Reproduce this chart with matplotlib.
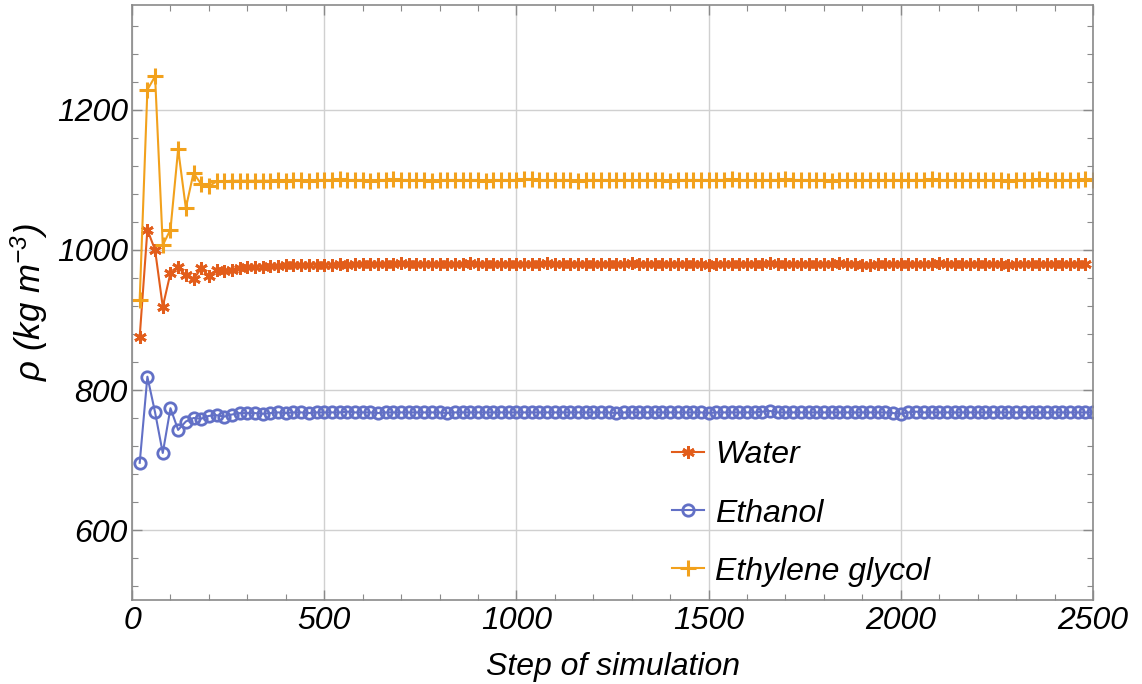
import numpy as np
import matplotlib
matplotlib.use("Agg")
from matplotlib import pyplot as plt
from matplotlib.ticker import MultipleLocator

plt.rcParams['font.family'] = ['Liberation Sans', 'DejaVu Sans']
plt.rcParams['font.style'] = 'italic'
plt.rcParams['mathtext.fontset'] = 'custom'
plt.rcParams['mathtext.rm'] = 'Liberation Sans:italic'
plt.rcParams['mathtext.it'] = 'Liberation Sans:italic'

# simulation steps
steps = list(range(20, 2501, 20))

water = [876, 1029, 1000, 919, 967, 975, 964, 958, 974, 963, 972, 970, 972, 974, 975, 976, 976, 977, 977, 978,
         978, 978, 979, 979, 979, 979, 980, 979, 980, 980, 980, 980, 980, 980, 981, 980, 980, 980, 980, 980,
         980, 980, 980, 981, 980, 980, 980, 980, 980, 980,
         980, 980, 980, 981, 980, 980, 980, 980, 980, 980, 980, 980, 980, 980, 981, 980, 980, 980, 980, 980,
         980, 980, 980, 980, 979,
         980, 980, 980, 980, 980, 980, 980, 981, 980, 980, 980, 980, 980, 980, 980, 980, 981, 980, 980, 978,
         979, 980, 980, 980, 980,
         980, 980, 980, 980, 981, 980, 980, 980, 980, 980, 980, 980, 980, 979, 980, 980, 980, 980, 980, 980,
         980, 980, 980, 980]

ethanol = [696, 819, 768, 710, 774, 743, 755, 760, 759, 763, 764, 762, 765, 767, 767, 767, 766, 767, 768, 767,
           768, 768, 767, 768, 768, 768, 768, 769, 768, 768, 768, 767, 768, 768, 768, 768, 768, 768, 768, 768,
           767, 768, 768, 768, 768, 768, 768, 768, 768, 768,
           768, 768, 768, 768, 768, 768, 768, 768, 768, 768, 768, 768, 767, 768, 768, 768, 768, 768, 768, 768,
           768, 768, 768, 768, 767,
           768, 768, 768, 768, 768, 768, 769, 770, 768, 768, 768, 768, 768, 768, 768, 768, 768, 768, 768, 768,
           768, 768, 768, 767, 766,
           768, 769, 768, 768, 768, 768, 768, 768, 768, 768, 768, 768, 768, 768, 768, 768, 768, 768, 768, 768,
           768, 768, 768, 768, 768]

glycol = [929, 1229, 1248, 1007, 1029, 1144, 1060, 1110, 1094, 1091, 1098,
          1098, 1099, 1099, 1099, 1099, 1099, 1099, 1100, 1099,
          1100, 1100, 1099, 1100, 1100, 1100, 1101, 1100, 1100, 1100, 1099, 1100, 1100, 1101, 1100, 1100, 1100,
          1100, 1099, 1100, 1100, 1100, 1100, 1100, 1100, 1099, 1100, 1100, 1100, 1100,
          1101, 1101, 1100, 1100, 1100, 1100, 1100, 1099, 1100, 1100, 1100, 1100, 1100, 1100, 1100, 1100, 1100,
          1100, 1100, 1099, 1100, 1100, 1100, 1100, 1100,
          1100, 1100, 1101, 1100, 1100, 1100, 1100, 1100, 1100, 1101, 1100, 1100, 1100, 1100, 1100, 1099, 1100,
          1100, 1100, 1100, 1100, 1100, 1100, 1100, 1100,
          1100, 1100, 1100, 1101, 1100, 1100, 1100, 1100, 1100, 1100, 1100, 1100, 1100, 1099, 1100, 1100, 1100,
          1101, 1100, 1100, 1100, 1100, 1100, 1101, 1100]

c_water = '#E25D1B'
c_ethanol = '#6270C6'
c_glycol = '#F2A11C'

fig = plt.figure(figsize=(11.42, 6.84), dpi=100)
ax = fig.add_axes([0.1156, 0.1228, 0.8415, 0.8699])

ax.plot(steps[:len(water)], water, color=c_water, lw=1.5, marker=(6, 2, 0), ms=9, mew=2.0,
        label='Water')
ax.plot(steps, ethanol, color=c_ethanol, lw=1.5, marker='o', ms=8.2, mew=2.0, mfc='none',
        label='Ethanol')
ax.plot(steps, glycol, color=c_glycol, lw=1.5, marker='+', ms=11, mew=2.2,
        label='Ethylene glycol')

ax.set_xlim(0, 2500)
ax.set_ylim(500, 1350)
ax.xaxis.set_major_locator(MultipleLocator(500))
ax.xaxis.set_minor_locator(MultipleLocator(100))
ax.yaxis.set_major_locator(MultipleLocator(200))
ax.yaxis.set_minor_locator(MultipleLocator(40))
ax.grid(True, which='major', color='#d0d0d0', lw=1.0)
ax.set_axisbelow(True)

for s in ax.spines.values():
    s.set_color('#8a8a8a')
    s.set_linewidth(1.2)
ax.tick_params(which='both', direction='in', top=True, right=True, color='#8a8a8a',
               labelsize=23)
ax.tick_params(axis='x', pad=4.5)
ax.tick_params(axis='y', pad=3)
ax.tick_params(which='major', length=7, width=1.0)
ax.tick_params(which='minor', length=4, width=0.8)

ax.set_xlabel('Step of simulation', fontsize=23, labelpad=11)
ax.set_ylabel(r'ρ (kg m$^{-3}$)', fontsize=25, labelpad=5)

ax.legend(loc='upper left', bbox_to_anchor=(0.545, 0.295), frameon=False, fontsize=23,
          handlelength=1.0, handletextpad=0.35, labelspacing=0.88, borderpad=0)

fig.savefig('out.png', dpi=100)
